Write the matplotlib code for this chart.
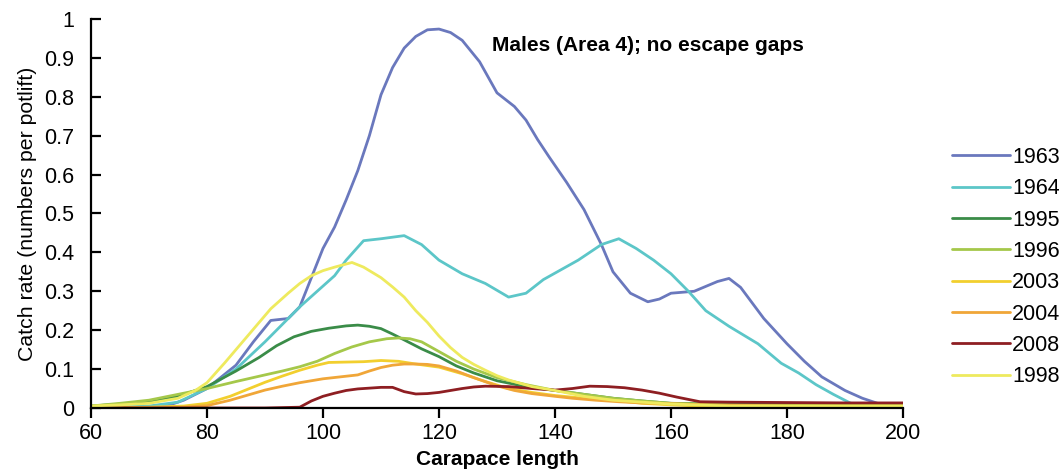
import matplotlib
matplotlib.use("Agg")
import matplotlib.pyplot as plt

plt.rcParams['font.family'] = ['Liberation Sans', 'DejaVu Sans']

# Werte (Carapace length -> catch rate)
x_1963 = [60, 70, 73, 76, 80, 85, 88, 91, 94, 96, 98, 100, 102, 104, 106, 108, 110, 112, 114, 116, 118,
          120, 122, 124, 127, 130, 133, 135, 137, 139, 142, 145, 148, 150, 153, 156, 158, 160, 164, 168,
          170, 172, 176, 180, 183, 186, 190, 193, 196, 200]
y_1963 = [0, 0, 0.005, 0.02, 0.05, 0.11, 0.17, 0.225, 0.23, 0.26, 0.335, 0.41, 0.465, 0.535, 0.61, 0.70,
          0.805, 0.875, 0.925, 0.955, 0.972, 0.974, 0.965, 0.945, 0.89, 0.81, 0.775, 0.74, 0.69, 0.645,
          0.58, 0.51, 0.42, 0.35, 0.295, 0.273, 0.28, 0.295, 0.30, 0.325, 0.333, 0.31, 0.23, 0.165,
          0.12, 0.08, 0.045, 0.025, 0.01, 0.01]

x_1964 = [60, 70, 75, 80, 85, 90, 93, 96, 99, 102, 104, 107, 110, 114, 117, 120, 124, 128, 132, 135,
          138, 141, 144, 148, 151, 154, 157, 160, 163, 166, 170, 175, 179, 182, 185, 188, 191, 195, 200]
y_1964 = [0, 0.005, 0.015, 0.05, 0.10, 0.17, 0.215, 0.26, 0.30, 0.34, 0.38, 0.43, 0.435, 0.443, 0.42,
          0.38, 0.345, 0.32, 0.285, 0.295, 0.33, 0.355, 0.38, 0.42, 0.435, 0.41, 0.38, 0.345, 0.30,
          0.25, 0.21, 0.165, 0.115, 0.09, 0.06, 0.035, 0.012, 0.01, 0.01]

x_1995 = [60, 65, 70, 75, 80, 85, 89, 92, 95, 98, 101, 104, 106, 108, 110, 112, 114, 117, 120, 123,
          126, 130, 135, 140, 145, 150, 155, 160, 170, 180, 190, 200]
y_1995 = [0.005, 0.01, 0.015, 0.03, 0.055, 0.095, 0.13, 0.16, 0.183, 0.197, 0.205, 0.211, 0.213, 0.21,
          0.204, 0.19, 0.175, 0.152, 0.132, 0.108, 0.09, 0.07, 0.055, 0.045, 0.035, 0.025, 0.018,
          0.012, 0.01, 0.01, 0.01, 0.01]

x_1996 = [60, 65, 70, 75, 80, 85, 90, 93, 96, 99, 102, 105, 108, 111, 113, 115, 117, 120, 123, 126,
          130, 135, 140, 145, 150, 155, 160, 170, 180, 190, 200]
y_1996 = [0.005, 0.012, 0.02, 0.035, 0.05, 0.068, 0.085, 0.095, 0.106, 0.12, 0.14, 0.157, 0.17, 0.178,
          0.18, 0.178, 0.17, 0.145, 0.12, 0.10, 0.078, 0.06, 0.045, 0.035, 0.025, 0.018, 0.012, 0.008,
          0.005, 0.005, 0.005]

x_2003 = [60, 70, 76, 80, 84, 87, 90, 93, 96, 99, 101, 104, 107, 110, 113, 116, 120, 124, 128, 132,
          136, 140, 145, 150, 155, 160, 165, 170, 180, 190, 200]
y_2003 = [0, 0.002, 0.005, 0.012, 0.03, 0.048, 0.066, 0.082, 0.097, 0.11, 0.117, 0.118, 0.119, 0.122,
          0.12, 0.113, 0.105, 0.088, 0.068, 0.05, 0.04, 0.032, 0.025, 0.02, 0.012, 0.008, 0.005, 0.005,
          0.005, 0.005, 0.005]

x_2004 = [60, 70, 76, 80, 84, 87, 90, 93, 96, 100, 103, 106, 108, 110, 112, 114, 116, 118, 120, 123,
          126, 130, 133, 136, 140, 143, 147, 151, 155, 158, 162, 166, 170, 180, 190, 200]
y_2004 = [0, 0, 0.002, 0.006, 0.02, 0.033, 0.046, 0.056, 0.065, 0.075, 0.08, 0.085, 0.095, 0.104, 0.11,
          0.113, 0.113, 0.112, 0.108, 0.095, 0.078, 0.057, 0.045, 0.037, 0.03, 0.025, 0.02, 0.016,
          0.013, 0.012, 0.01, 0.008, 0.007, 0.005, 0.005, 0.005]

x_2008 = [60, 80, 90, 96, 98, 100, 102, 104, 106, 108, 110, 112, 114, 116, 118, 120, 122, 124, 126,
          128, 132, 136, 140, 143, 146, 149, 152, 155, 158, 161, 165, 170, 180, 190, 200]
y_2008 = [0, 0, 0, 0.002, 0.018, 0.03, 0.038, 0.045, 0.049, 0.051, 0.053, 0.053, 0.042, 0.036, 0.037,
          0.04, 0.045, 0.05, 0.054, 0.056, 0.055, 0.05, 0.046, 0.05, 0.056, 0.055, 0.052, 0.046,
          0.038, 0.028, 0.016, 0.015, 0.014, 0.013, 0.013]

x_1998 = [60, 65, 70, 75, 78, 80, 83, 87, 91, 94, 96, 98, 100, 102, 105, 107, 110, 112, 114, 116, 118,
          120, 122, 124, 126, 128, 130, 132, 136, 140, 145, 150, 160, 170, 180, 200]
y_1998 = [0.005, 0.008, 0.012, 0.025, 0.045, 0.065, 0.115, 0.185, 0.255, 0.295, 0.32, 0.34, 0.353,
          0.362, 0.374, 0.362, 0.335, 0.311, 0.285, 0.25, 0.22, 0.185, 0.155, 0.13, 0.112, 0.097,
          0.083, 0.072, 0.055, 0.045, 0.03, 0.02, 0.01, 0.005, 0.005, 0.005]

series = [
    ('1963', x_1963, y_1963, '#6a78bd'),
    ('1964', x_1964, y_1964, '#5cc6c8'),
    ('1995', x_1995, y_1995, '#3a8c48'),
    ('1996', x_1996, y_1996, '#a5c84a'),
    ('2003', x_2003, y_2003, '#f2cf2e'),
    ('2004', x_2004, y_2004, '#f0a638'),
    ('2008', x_2008, y_2008, '#8e1e22'),
    ('1998', x_1998, y_1998, '#eeea5e'),
]

fig = plt.figure(figsize=(10.59, 4.71), dpi=100)
ax = fig.add_axes([0.0859, 0.1338, 0.7668, 0.826])

for label, xs, ys, col in series:
    ax.plot(xs, ys, color=col, lw=2.0, label=label, solid_capstyle='round', solid_joinstyle='round')

ax.set_xlim(60, 200)
ax.set_ylim(0, 1)
ax.set_xticks(range(60, 201, 20))
yt = [i / 10 for i in range(11)]
ax.set_yticks(yt)
ax.set_yticklabels(['0'] + ['%.1f' % v for v in yt[1:-1]] + ['1'])

for s in ['top', 'right']:
    ax.spines[s].set_visible(False)
for s in ['left', 'bottom']:
    ax.spines[s].set_linewidth(1.6)
ax.tick_params(axis='y', direction='in', length=7, width=1.6, labelsize=15.5, pad=12)
ax.tick_params(axis='x', direction='out', length=7, width=1.6, labelsize=15.5, pad=4)

ax.set_xlabel('Carapace length', fontsize=15, fontweight='bold', labelpad=4)
ax.set_ylabel('Catch rate (numbers per potlift)', fontsize=15.3, labelpad=5)

ax.text(0.686, 0.933, 'Males (Area 4); no escape gaps', transform=ax.transAxes,
        ha='center', va='center', fontsize=15, fontweight='bold')

fig.legend(loc='center left', bbox_to_anchor=(0.899, 0.433), frameon=False, fontsize=15.5,
           handlelength=2.7, handletextpad=0.1, labelspacing=0.48, borderpad=0, borderaxespad=0)

fig.savefig('out.png', dpi=100)
